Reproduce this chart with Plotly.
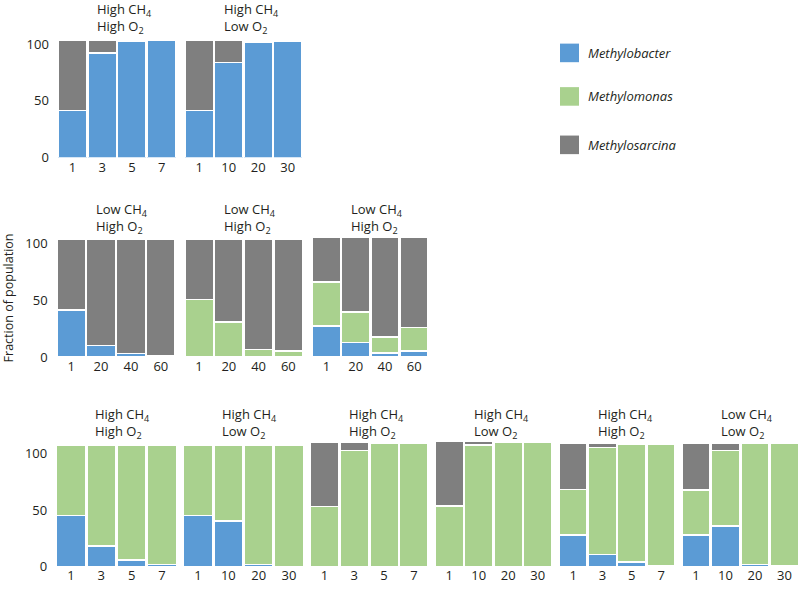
import plotly.graph_objects as go

W, H = 800, 593
FONT = "Open Sans"
TXT = "#231f20"

species = ["Methylobacter", "Methylomonas", "Methylosarcina"]
colors = ["#5b9bd5", "#a9d18e", "#7f7f7f"]

# ---- data (fraction of population) ----
r1p1_days = ["1", "3", "5", "7"]
r1p1_bacter = [41.5, 92, 102.3, 103.2]
r1p1_monas = [0, 0, 0, 0]
r1p1_sarcina = [62.2, 11.7, 0, 0]

r1p2_days = ["1", "10", "20", "30"]
r1p2_bacter = [41.5, 83.6, 101.7, 102.8]
r1p2_monas = [0, 0, 0, 0]
r1p2_sarcina = [62.2, 20.1, 0, 0]

r2p1_days = ["1", "20", "40", "60"]
r2p1_bacter = [41.6, 10.3, 3.2, 1.5]
r2p1_monas = [0, 0, 0, 0]
r2p1_sarcina = [62.1, 93.4, 100.5, 102.2]

r2p2_days = ["1", "20", "40", "60"]
r2p2_bacter = [0, 0, 0, 0]
r2p2_monas = [50.6, 31.0, 6.9, 5.2]
r2p2_sarcina = [53.1, 72.7, 96.8, 98.5]

r2p3_days = ["1", "20", "40", "60"]
r2p3_bacter = [27.6, 12.7, 3.7, 5.2]
r2p3_monas = [38.8, 27.0, 13.8, 20.7]
r2p3_sarcina = [39.4, 66.1, 88.3, 79.9]

r3p1_days = ["1", "3", "5", "7"]
r3p1_bacter = [45.2, 18.0, 5.5, 1.5]
r3p1_monas = [62.6, 89.8, 102.3, 106.3]
r3p1_sarcina = [1.5, 1.5, 1.5, 1.5]

r3p2_days = ["1", "10", "20", "30"]
r3p2_bacter = [45.2, 40.3, 1.7, 0]
r3p2_monas = [62.6, 67.5, 106.1, 107.8]
r3p2_sarcina = [1.5, 1.5, 1.5, 1.5]

r3p3_days = ["1", "3", "5", "7"]
r3p3_bacter = [0, 0, 0, 0]
r3p3_monas = [53.3, 102.9, 109.3, 109.3]
r3p3_sarcina = [56.9, 7.3, 0, 0]

r3p4_days = ["1", "10", "20", "30"]
r3p4_bacter = [0, 0, 0, 0]
r3p4_monas = [53.7, 108.0, 110.2, 110.2]
r3p4_sarcina = [57.3, 3.0, 0, 0]

r3p5_days = ["1", "3", "5", "7"]
r3p5_bacter = [28.1, 10.7, 3.7, 1.0]
r3p5_monas = [40.3, 95.1, 105.3, 108.0]
r3p5_sarcina = [41.4, 4.0, 0, 0]

r3p6_days = ["1", "10", "20", "30"]
r3p6_bacter = [28.1, 35.9, 1.7, 0.8]
r3p6_monas = [40.0, 67.3, 107.6, 108.5]
r3p6_sarcina = [41.7, 6.6, 0, 0]

titles = [
    "High CH<sub>4</sub><br>High O<sub>2</sub>",
    "High CH<sub>4</sub><br>Low O<sub>2</sub>",
    "Low CH<sub>4</sub><br>High O<sub>2</sub>",
    "Low CH<sub>4</sub><br>High O<sub>2</sub>",
    "Low CH<sub>4</sub><br>High O<sub>2</sub>",
    "High CH<sub>4</sub><br>High O<sub>2</sub>",
    "High CH<sub>4</sub><br>Low O<sub>2</sub>",
    "High CH<sub>4</sub><br>High O<sub>2</sub>",
    "High CH<sub>4</sub><br>Low O<sub>2</sub>",
    "High CH<sub>4</sub><br>High O<sub>2</sub>",
    "Low CH<sub>4</sub><br>Low O<sub>2</sub>",
]

panel_data = [
    (r1p1_days, r1p1_bacter, r1p1_monas, r1p1_sarcina),
    (r1p2_days, r1p2_bacter, r1p2_monas, r1p2_sarcina),
    (r2p1_days, r2p1_bacter, r2p1_monas, r2p1_sarcina),
    (r2p2_days, r2p2_bacter, r2p2_monas, r2p2_sarcina),
    (r2p3_days, r2p3_bacter, r2p3_monas, r2p3_sarcina),
    (r3p1_days, r3p1_bacter, r3p1_monas, r3p1_sarcina),
    (r3p2_days, r3p2_bacter, r3p2_monas, r3p2_sarcina),
    (r3p3_days, r3p3_bacter, r3p3_monas, r3p3_sarcina),
    (r3p4_days, r3p4_bacter, r3p4_monas, r3p4_sarcina),
    (r3p5_days, r3p5_bacter, r3p5_monas, r3p5_sarcina),
    (r3p6_days, r3p6_bacter, r3p6_monas, r3p6_sarcina),
]

# ---- layout geometry (pixels) ----
# row: (pixel of value 0, pixels per unit, range max, title block centre y)
rows = {
    1: (157, 1.16, 105, 15),
    2: (361, 1.16, 108, 219),
    3: (575, 1.15, 115, 429),
}
panel_geom = [
    (1, 57.5, 176.5), (1, 184.5, 302.5),
    (2, 56.2, 175.8), (2, 184.2, 303.2), (2, 311.8, 428.8),
    (3, 55.8, 177.2), (3, 182.8, 304.2), (3, 309.5, 428.8),
    (3, 434.5, 552.5), (3, 558.5, 675.8), (3, 681.2, 799.2),
]

fig = go.Figure()
layout = dict(
    width=W, height=H, margin=dict(l=0, r=0, t=0, b=0),
    paper_bgcolor="white", plot_bgcolor="white",
    barmode="stack", bargap=0.04, showlegend=False,
    font=dict(family=FONT, size=13, color=TXT),
)
annotations = []
shapes = []

for i, ((days, b, m, s), (row, x0, x1), title) in enumerate(zip(panel_data, panel_geom, titles)):
    n = i + 1
    xa = "x" if n == 1 else f"x{n}"
    ya = "y" if n == 1 else f"y{n}"
    y0px, ppu, rmax, tyc = rows[row]
    toppx = y0px - rmax * ppu
    for vals, name, col in zip((b, m, s), species, colors):
        fig.add_trace(go.Bar(
            x=days, y=vals, name=name, xaxis=xa, yaxis=ya,
            marker=dict(color=col, line=dict(color="white", width=1.5)),
            showlegend=False,
        ))
    first_in_row = (i in (0, 2, 5))
    layout["xaxis" if n == 1 else f"xaxis{n}"] = dict(
        domain=[x0 / W, x1 / W], anchor=ya, type="category",
        range=[-0.5, 3.5], showgrid=False, zeroline=False, showline=False,
        ticks="", tickfont=dict(size=13, color=TXT), fixedrange=True,
    )
    layout["yaxis" if n == 1 else f"yaxis{n}"] = dict(
        domain=[1 - y0px / H, 1 - toppx / H], anchor=xa,
        range=[0, rmax], showgrid=False, zeroline=False, showline=False,
        tickvals=[0, 50, 100], showticklabels=first_in_row,
        ticks="outside" if first_in_row else "", ticklen=5,
        tickcolor="rgba(0,0,0,0)", tickfont=dict(size=13, color=TXT),
        fixedrange=True,
    )
    annotations.append(dict(
        text=title, xref="paper", yref="paper",
        x=(x0 + 37.5) / W, y=1 - tyc / H, xanchor="left", yanchor="middle",
        align="left", showarrow=False, font=dict(size=13, color=TXT),
    ))

# y-axis title
annotations.append(dict(
    text="Fraction of population", xref="paper", yref="paper",
    x=8 / W, y=1 - 301 / H, textangle=-90, showarrow=False,
    xanchor="center", yanchor="middle", font=dict(size=12.5, color=TXT),
))

# legend (drawn as layout decoration)
leg_y = [50, 94.5, 144]
for name, col, cy in zip(species, colors, leg_y):
    shapes.append(dict(
        type="rect", xref="paper", yref="paper",
        x0=560 / W, x1=579 / W, y0=1 - (cy + 9.5) / H, y1=1 - (cy - 9.5) / H,
        fillcolor=col, line=dict(width=0),
    ))
    annotations.append(dict(
        text=f"<i>{name}</i>", xref="paper", yref="paper",
        x=586 / W, y=1 - cy / H, xanchor="left", yanchor="middle",
        showarrow=False, font=dict(size=13, color=TXT),
    ))

layout["annotations"] = annotations
layout["shapes"] = shapes
fig.update_layout(**layout)
fig.write_html(
    "out.html",
    config={"displayModeBar": False},
    post_script=(
        "var gd=document.getElementById('{plot_id}');"
        "gd.style.position='fixed';gd.style.top='0px';gd.style.left='0px';"
        "document.body.style.margin='0';document.body.style.overflow='hidden';"
        "document.documentElement.style.overflow='hidden';"
    ),
)
